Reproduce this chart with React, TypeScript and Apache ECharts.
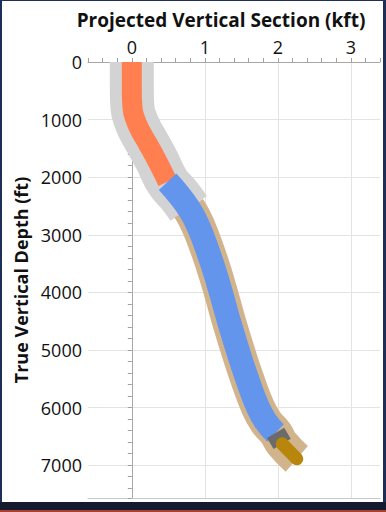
import React, { useEffect, useRef } from "react";
import * as echarts from "echarts";

// Well survey: true vertical depth (ft) and projected vertical section (kft)
const surveyDepthFt = [0, 500, 800, 1000, 1200, 1400, 1700, 2080, 2300, 2540, 2740, 3000, 3500, 4000, 4500, 5000, 5500, 6000, 6250, 6440, 6630, 6890];
const surveyVsKft = [0, 0, 0.01, 0.05, 0.12, 0.21, 0.34, 0.49, 0.64, 0.78, 0.87, 0.96, 1.1, 1.22, 1.33, 1.45, 1.58, 1.73, 1.84, 1.97, 2.06, 2.26];

// Sections of the path (depth ranges, ft)
const sectionNames = ["Uncertainty (upper)", "Uncertainty (lower)", "Build", "Tangent / Drop", "Landing", "Target"];
const sectionFromFt = [0, 2540, 0, 2080, 6440, 6630];
const sectionToFt = [2540, 6890, 2080, 6440, 6630, 6890];

const xTitle = "Projected Vertical Section (kft)";
const yTitle = "True Vertical Depth (ft)";
const xMin = -0.6;
const xMax = 3.4;
const yMin = 0;
const yMax = 7570;

const FONT = '"Open Sans", "Noto Sans", sans-serif';

export default function App() {
  const ref = useRef<HTMLDivElement>(null);
  useEffect(() => {
    if (!ref.current) return;
    const chart = echarts.init(ref.current, undefined, { renderer: "svg" });
    const styles = [
      { color: "#d3d3d3", width: 44, cap: "butt" },
      { color: "#d2b48c", width: 34, cap: "butt" },
      { color: "#ff7f50", width: 20, cap: "butt" },
      { color: "#6495ed", width: 24, cap: "butt" },
      { color: "#6b6b6b", width: 20, cap: "butt" },
      { color: "#b8860b", width: 13, cap: "round" },
    ];
    const series: any[] = sectionNames.map((name, i) => {
      const data: number[][] = [];
      surveyDepthFt.forEach((d, k) => {
        if (d >= sectionFromFt[i] && d <= sectionToFt[i]) data.push([surveyVsKft[k], d]);
      });
      const s = styles[i];
      return {
        type: "line",
        name,
        data,
        smooth: 0.5,
        symbol: "none",
        silent: true,
        lineStyle: { color: s.color, width: s.width, cap: s.cap, join: "round" },
        z: 2 + i,
      };
    });
    const clear = "rgba(0,0,0,0)";
    const xGrid = [clear, clear, clear, "#e3e3e3", clear];
    const yGrid = ["#e3e3e3", clear, clear, clear, clear];
    chart.setOption({
      animation: false,
      backgroundColor: "#ffffff",
      grid: { left: 86, top: 61, right: 0, bottom: 4, containLabel: false },
      graphic: [
        {
          type: "text",
          x: 219,
          y: 19,
          style: {
            text: xTitle,
            font: `bold 19px ${FONT}`,
            fill: "#111",
            align: "center",
            verticalAlign: "middle",
          },
        },
      ],
      xAxis: [
        {
          type: "value",
          position: "top",
          min: xMin,
          max: xMax,
          interval: 0.2,
          axisLine: { show: true, lineStyle: { color: "#a8a8a8" } },
          axisTick: { show: true, length: 4, lineStyle: { color: "#a0a0a0" } },
          axisLabel: {
            color: "#111",
            fontSize: 18,
            fontFamily: FONT,
            margin: 6,
            formatter: (v: number) => (Math.abs(v - Math.round(v)) < 1e-6 ? String(Math.round(v)) : ""),
          },
          splitLine: { show: true, lineStyle: { color: xGrid, width: 1 } },
        },
        {
          type: "value",
          position: "bottom",
          min: xMin,
          max: xMax,
          axisLine: { show: true, lineStyle: { color: "#c8c8c8" } },
          axisTick: { show: false },
          axisLabel: { show: false },
          splitLine: { show: false },
        },
      ],
      yAxis: {
        type: "value",
        inverse: true,
        min: yMin,
        max: yMax,
        interval: 200,
        name: yTitle,
        nameLocation: "middle",
        nameGap: 43,
        nameTextStyle: { fontWeight: "bold", fontSize: 18, fontFamily: FONT, color: "#111" },
        axisLine: { show: true, lineStyle: { color: "#a8a8a8" } },
        axisTick: { show: true, length: 4, lineStyle: { color: "#a0a0a0" } },
        axisLabel: {
          color: "#111",
          fontSize: 18,
          fontFamily: FONT,
          margin: 6,
          formatter: (v: number) => (Math.round(v) % 1000 === 0 && Math.abs(v - Math.round(v)) < 1e-6 ? String(Math.round(v)) : ""),
        },
        splitLine: { show: true, lineStyle: { color: yGrid, width: 1 } },
      },
      series,
    });
    return () => chart.dispose();
  }, []);

  return (
    <div style={{ position: "fixed", left: 0, top: 0, width: 386, height: 512, background: "#1e2f57", overflow: "hidden" }}>
      <div ref={ref} style={{ position: "absolute", left: 2, top: 1, width: 381, height: 501 }} />
      <div style={{ position: "absolute", left: 0, top: 502, width: 386, height: 8, background: "#151a2e" }} />
      <div style={{ position: "absolute", left: 0, top: 510, width: 386, height: 2, background: "#a8402f" }} />
    </div>
  );
}
